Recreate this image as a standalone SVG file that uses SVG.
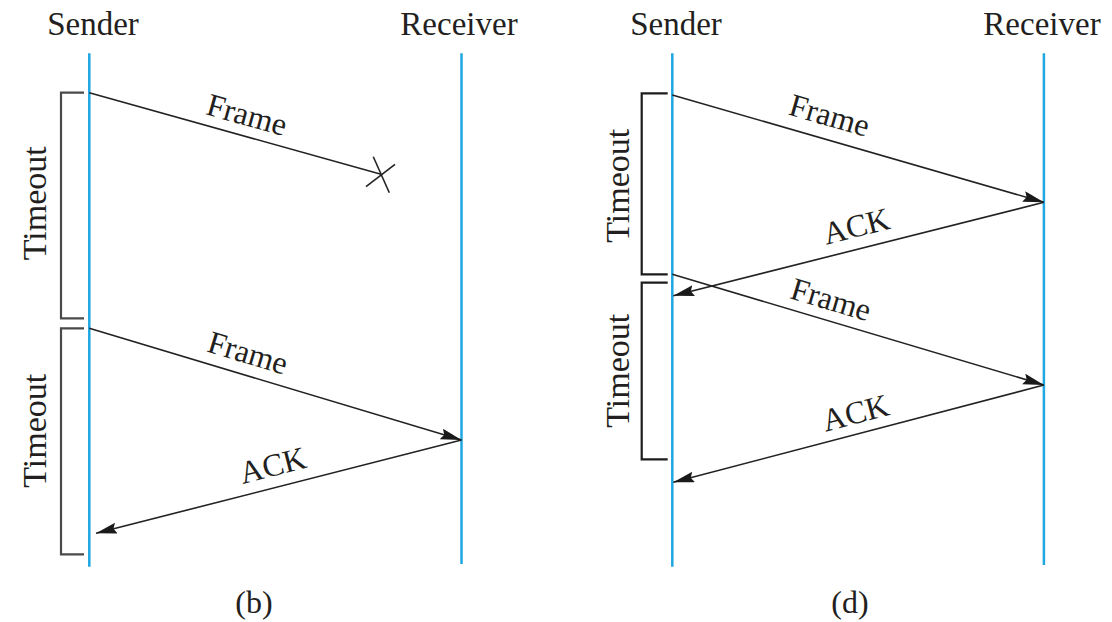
<svg xmlns="http://www.w3.org/2000/svg" width="1112" height="622" viewBox="0 0 1112 622">
  <style>
    .life { stroke: #1ea7e1; stroke-width: 2.5; fill: none; }
    .msg { stroke: #222; stroke-width: 1.6; fill: none; }
    .brk { fill: none; stroke-width: 2.2; }
    .brkL { stroke: #4a4a4a; }
    .brkR { stroke: #1c1c1c; }
    text { font-family: "Liberation Serif", "Times New Roman", serif; fill: #231f20; }
    .head { font-size: 33px; text-anchor: middle; }
    .lbl { font-size: 32px; text-anchor: middle; }
    .tmo { font-size: 34px; text-anchor: middle; }
    .cap { font-size: 32px; text-anchor: middle; }
  </style>
  <defs>
    <marker id="arrow" markerUnits="userSpaceOnUse" markerWidth="22" markerHeight="12" refX="21" refY="5.5" orient="auto">
      <path d="M0,0 L21,5.5 L0,11 L3,5.5 Z" fill="#1a1a1a"/>
    </marker>
  </defs>

  <g id="panel-b">
    <g id="b-sender">
      <text class="head" x="93" y="35">Sender</text>
      <line class="life" x1="89.3" y1="53.3" x2="89.3" y2="566.7"/>
    </g>
    <g id="b-receiver">
      <text class="head" x="459" y="35">Receiver</text>
      <line class="life" x1="461.5" y1="53.3" x2="461.5" y2="564"/>
    </g>
    <g id="b-timeout1">
      <path class="brk brkL" d="M84,92.7 H61 V318.3 H84"/>
      <text class="tmo" transform="translate(45.5,203.3) rotate(-90)">Timeout</text>
    </g>
    <g id="b-timeout2">
      <path class="brk brkL" d="M84,328.3 H61 V554.3 H84"/>
      <text class="tmo" transform="translate(46,430.8) rotate(-90)">Timeout</text>
    </g>
    <g id="b-connectors">
      <line class="msg" x1="89.3" y1="92.7" x2="381" y2="174.3"/>
      <line class="msg" x1="373.3" y1="156.7" x2="389.3" y2="192.7"/>
      <line class="msg" x1="366" y1="186.7" x2="395" y2="164.3"/>
      <line class="msg" x1="89.3" y1="328.3" x2="461.5" y2="440" marker-end="url(#arrow)"/>
      <line class="msg" x1="461.5" y1="440" x2="96" y2="533.3" marker-end="url(#arrow)"/>
    </g>
    <g id="b-labels">
      <text class="lbl" transform="translate(244,125.1) rotate(15.6)">Frame</text>
      <text class="lbl" transform="translate(244.8,363) rotate(16.7)">Frame</text>
      <text class="lbl" transform="translate(275.5,475.7) rotate(-14.3)">ACK</text>
    </g>
    <text class="cap" x="254" y="613">(b)</text>
  </g>

  <g id="panel-d">
    <g id="d-sender">
      <text class="head" x="676" y="35">Sender</text>
      <line class="life" x1="672.3" y1="53.3" x2="672.3" y2="566.7"/>
    </g>
    <g id="d-receiver">
      <text class="head" x="1042" y="35">Receiver</text>
      <line class="life" x1="1043.9" y1="53.3" x2="1043.9" y2="565"/>
    </g>
    <g id="d-timeout1">
      <path class="brk brkR" d="M667.7,93.3 H641.7 V274.3 H667.7"/>
      <text class="tmo" transform="translate(628.5,185.8) rotate(-90)">Timeout</text>
    </g>
    <g id="d-timeout2">
      <path class="brk brkR" d="M667.7,282.7 H641.7 V459.3 H667.7"/>
      <text class="tmo" transform="translate(628.5,370.8) rotate(-90)">Timeout</text>
    </g>
    <g id="d-connectors">
      <line class="msg" x1="672.3" y1="95" x2="1043.9" y2="202.3" marker-end="url(#arrow)"/>
      <line class="msg" x1="1043.9" y1="202.3" x2="673.3" y2="295.7" marker-end="url(#arrow)"/>
      <line class="msg" x1="672.3" y1="274.3" x2="1043.9" y2="385" marker-end="url(#arrow)"/>
      <line class="msg" x1="1043.9" y1="385" x2="673.3" y2="482.3" marker-end="url(#arrow)"/>
    </g>
    <g id="d-labels">
      <text class="lbl" transform="translate(826.5,125.6) rotate(16.1)">Frame</text>
      <text class="lbl" transform="translate(859,236.5) rotate(-14.15)">ACK</text>
      <text class="lbl" transform="translate(828,309.7) rotate(16.6)">Frame</text>
      <text class="lbl" transform="translate(858.2,423.1) rotate(-14.7)">ACK</text>
    </g>
    <text class="cap" x="850" y="613">(d)</text>
  </g>
</svg>
